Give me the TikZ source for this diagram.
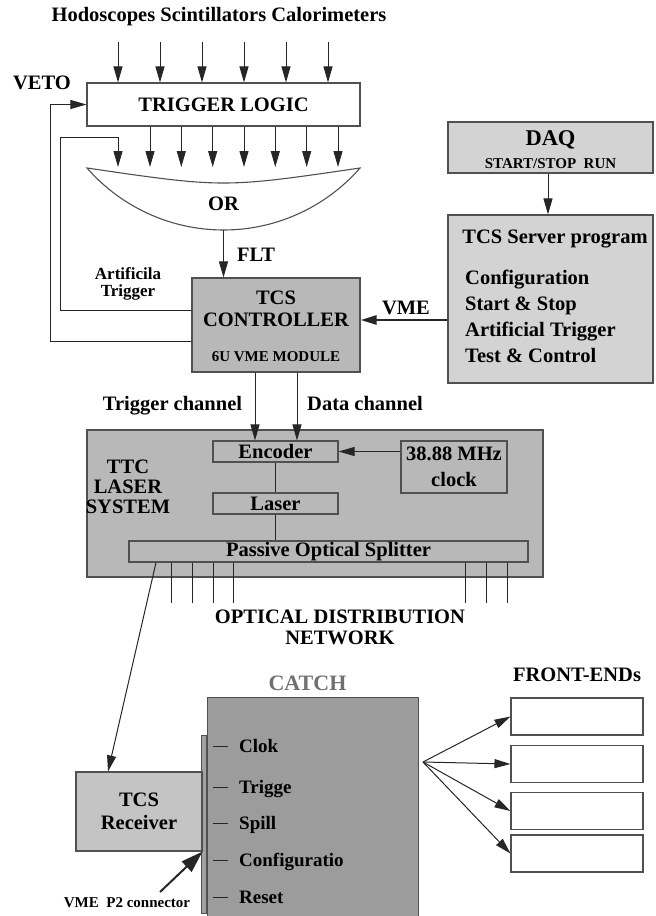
\documentclass[tikz,border=0pt]{standalone}
\usepackage{fontspec}
\setmainfont{Liberation Serif}
\usetikzlibrary{arrows.meta,positioning,calc}
\definecolor{TCSGray} {HTML}{B8B8B8}
\definecolor{TCSLight}{HTML}{D3D3D3}
\definecolor{TCSDark} {HTML}{9C9C9C}
\definecolor{TCSRecv} {HTML}{C4C4C4}
\definecolor{TCSLine} {HTML}{505050}
\definecolor{TCSText} {HTML}{707070}

\begin{document}
\begin{tikzpicture}[x=1pt,y=-1pt,
    bx/.style={draw=TCSLine,line width=1.1pt,inner sep=0pt},
    ln/.style={draw=black!85,line width=1pt},
    arr/.style={ln,-{Triangle[length=16pt,width=9pt]}},
    big/.style={font=\fontsize{20.5}{22}\selectfont\bfseries,align=center,inner sep=0pt},
    mid/.style={font=\fontsize{17}{17}\selectfont\bfseries,align=center,inner sep=0pt},
    itm/.style={font=\fontsize{19}{20}\selectfont\bfseries,inner sep=0pt},
    sml/.style={font=\fontsize{15}{16}\selectfont\bfseries,align=center,inner sep=0pt}
  ]
    \useasboundingbox (0,0) rectangle (656,916);

    \node[big](hdr) at (219,17) {Hodoscopes Scintillators Calorimeters};
    \node[bx,big,minimum width=273pt,minimum height=43pt](tl) at (223.5,104.5) {TRIGGER LOGIC};
    \node[big](veto) at (42,83) {VETO};
    \foreach \x in {118,160,202,244,286,328}
      \draw[arr](\x,42)--(tl.north -| \x,0);
    \foreach \x in {150,181.3,212.7,244,275.3,306.7,338}
      \draw[arr](tl.south -| \x,0)--(\x,167);

    \draw[bx](87,168) arc[start angle=138.85,end angle=41.15,radius=181.3]
      .. controls (223.5,188) .. (87,168) -- cycle;
    \coordinate(orb) at (223.5,230);
    \node[big](or) at (223.5,204) {OR};

    \node[bx,fill=TCSGray,minimum width=168pt,minimum height=94pt](ctrl) at (276,325) {};
    \node[big](ctrltxt) at (276,309) {TCS\\CONTROLLER};
    \node[sml](vmemod) at (276,357) {6U VME MODULE};
    \draw[arr](orb)--(orb |- ctrl.north);
    \node[big](flt) at (256,255) {FLT};

    \draw[arr](ctrl.west |- 0,341) -| (50,104.5) -- (tl.west);
    \draw[arr](ctrl.west |- 0,310) -| (60,137) -| (118,167);
    \node[mid](art) at (128,284) {Artificila\\Trigger};

    \node[bx,fill=TCSLight,minimum width=205pt,minimum height=51pt](daq) at (550.5,147.5) {};
    \node[big,font=\fontsize{22.5}{24}\selectfont\bfseries](daqtxt) at (550.5,140) {DAQ};
    \node[sml](run) at (550.5,164) {START/STOP\ \ RUN};
    \node[bx,fill=TCSLight,minimum width=205pt,minimum height=168pt](srv) at (550.5,299) {};
    \draw[arr](daq.south -| 548,0)--(srv.north -| 548,0);
    \node[big,anchor=base](srvtxt) at (555,243) {TCS Server program};
    \foreach \t [count=\i] in {Configuration,Start \& Stop,Artificial Trigger,Test \& Control}
      \node[big,anchor=base west](srv\i) at (465,284+26*\i-26) {\t};
    \draw[ln,line width=2.6pt,-{Triangle[length=16pt,width=9pt]}](srv.west |- 0,320)--(ctrl.east |- 0,320);
    \node[big](vme) at (406,308) {VME};

    \node[bx,fill=TCSGray,minimum width=456pt,minimum height=147pt](ttc) at (315,503.5) {};
    \node[bx,big,fill=TCSGray,minimum width=125pt,minimum height=21pt](enc) at (275.5,451.5) {Encoder};
    \node[bx,big,fill=TCSGray,minimum width=125pt,minimum height=21pt](las) at (275.5,503.5) {Laser};
    \node[bx,big,fill=TCSGray,minimum width=399pt,minimum height=21pt](spl) at (328.5,551.5) {Passive Optical Splitter};
    \node[bx,big,fill=TCSGray,minimum width=106pt,minimum height=52pt,
      font=\fontsize{20.5}{26}\selectfont\bfseries](clk) at (454,467) {38.88 MHz\\clock};
    \node[big,font=\fontsize{20.5}{20}\selectfont\bfseries](ttctxt) at (128,487) {TTC\\LASER\\SYSTEM};
    \draw[arr](clk.west |- enc.east)--(enc.east);
    \draw[ln](enc)--(las);
    \draw[ln](las)--(las |- spl.north);

    \draw[arr](ctrl.south -| 255,0)--(enc.north -| 255,0);
    \draw[arr](ctrl.south -| 297,0)--(enc.north -| 297,0);
    \node[big,anchor=base](trch) at (172.5,410) {Trigger channel};
    \node[big,anchor=base](dach) at (365,410) {Data channel};

    \foreach \x in {171,192,213,233,465,486,507}
      \draw[ln](spl.south -| \x,0)--(\x,603);
    \node[big,font=\fontsize{20.5}{21}\selectfont\bfseries](odn) at (340,627.5) {OPTICAL DISTRIBUTION\\NETWORK};

    \node[big,text=TCSText,font=\fontsize{22}{24}\selectfont\bfseries](catchtxt) at (307.5,683) {CATCH};
    \node[bx,fill=TCSDark,anchor=north west,minimum width=211pt,minimum height=225pt](catch) at (207,697) {};
    \node[bx,fill=TCSGray!85!black!95,anchor=north east,minimum width=5pt,minimum height=178pt](p2) at (207,735) {};
    \node[bx,big,fill=TCSRecv,minimum width=126pt,minimum height=79pt,
      font=\fontsize{20.5}{23}\selectfont\bfseries](rcv) at (139,811.5) {TCS\\Receiver};
    \foreach \t/\y in {Clok/746,Trigge/787,Spill/823,Configuratio/860,Reset/897}{
      \draw[ln](213,\y)--(228,\y);
      \node[itm,anchor=base west] at (239,\y+6) {\t};
    }
    \draw[arr](spl.south -| 156,0)--(rcv.north -| 108,0);

    \node[sml](p2lbl) at (127,903) {VME\ \ P2 connector};
    \coordinate(p2tail) at (160,892);
    \draw[ln,line width=2pt,-{Triangle[length=22pt,width=14pt]}](p2tail)--(rcv.south east);

    \node[big](fetxt) at (577,675) {FRONT-ENDs};
    \foreach \y [count=\i] in {716.5,764,811,853.5}
      \node[bx,minimum width=132pt,minimum height=37pt](fe\i) at (577,\y) {};
    \coordinate(fan) at (423,762);
    \foreach \i in {1,...,4}
      \draw[arr](fan)--(fe\i.west);
  \end{tikzpicture}
\end{document}
